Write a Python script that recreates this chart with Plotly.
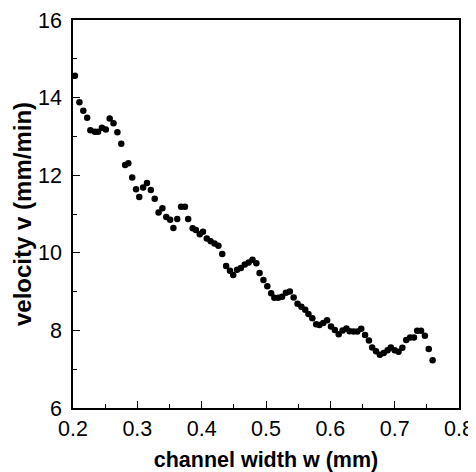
import plotly.graph_objects as go

width_mm = [0.203, 0.210, 0.216, 0.222, 0.227, 0.234, 0.239, 0.245, 0.251, 0.257,
            0.263, 0.269, 0.275, 0.281, 0.286, 0.292, 0.298, 0.303, 0.309, 0.315,
            0.321, 0.327, 0.333, 0.339, 0.345, 0.351, 0.356, 0.362, 0.368, 0.374,
            0.379, 0.386, 0.391, 0.397, 0.402, 0.408, 0.414, 0.420, 0.426, 0.432,
            0.438, 0.444, 0.449, 0.455, 0.461, 0.467, 0.473, 0.479, 0.485, 0.490,
            0.496, 0.502, 0.508, 0.513, 0.519, 0.525, 0.531, 0.537, 0.543, 0.549,
            0.555, 0.561, 0.566, 0.572, 0.578, 0.583, 0.589, 0.595, 0.601, 0.607,
            0.613, 0.619, 0.625, 0.630, 0.636, 0.642, 0.648, 0.654, 0.660, 0.665,
            0.671, 0.677, 0.683, 0.689, 0.694, 0.700, 0.706, 0.712, 0.718, 0.724,
            0.730, 0.735, 0.741, 0.747, 0.753, 0.759]
velocity = [14.56, 13.88, 13.66, 13.48, 13.16, 13.12, 13.12, 13.22, 13.18, 13.46,
            13.34, 13.11, 12.81, 12.26, 12.31, 11.94, 11.64, 11.44, 11.68, 11.80,
            11.62, 11.39, 11.04, 11.15, 10.92, 10.85, 10.64, 10.87, 11.19, 11.19,
            10.87, 10.63, 10.59, 10.48, 10.54, 10.37, 10.30, 10.24, 10.18, 9.97,
            9.66, 9.54, 9.43, 9.56, 9.61, 9.70, 9.75, 9.82, 9.73, 9.48,
            9.30, 9.14, 8.96, 8.84, 8.84, 8.87, 8.97, 9.00, 8.85, 8.69,
            8.61, 8.53, 8.42, 8.31, 8.16, 8.14, 8.19, 8.26, 8.10, 8.01,
            7.90, 8.00, 8.05, 7.98, 7.97, 7.97, 8.04, 7.88, 7.74, 7.56,
            7.46, 7.37, 7.42, 7.49, 7.56, 7.49, 7.45, 7.55, 7.75, 7.82,
            7.82, 7.99, 7.99, 7.86, 7.52, 7.23]

x_ticks = [0.2, 0.3, 0.4, 0.5, 0.6, 0.7, 0.8]
x_tick_labels = ["0.2", "0.3", "0.4", "0.5", "0.6", "0.7", "0.8"]
y_ticks = [6, 8, 10, 12, 14, 16]
y_tick_labels = ["6", "8", "10", "12", "14", "16"]

FONT = "Liberation Sans, Arial, sans-serif"

fig = go.Figure(go.Scatter(
    x=width_mm, y=velocity, mode="markers",
    marker=dict(color="black", size=6.5, line=dict(width=0)),
    showlegend=False,
))

axis_common = dict(
    showline=True, linecolor="black", linewidth=1.5, mirror=True,
    ticks="inside", ticklen=7, tickwidth=1.2, tickcolor="black",
    showgrid=False, zeroline=False, automargin=False,
    tickfont=dict(family=FONT, size=21.5, color="black"),
)

fig.update_xaxes(
    range=[0.2, 0.8], tickvals=x_ticks, ticktext=x_tick_labels,
    ticklabelstandoff=0,
    minor=dict(ticks="inside", ticklen=4, tickwidth=1.2, tickcolor="black", dtick=0.05, tick0=0.2, showgrid=False),
    title=dict(text="<b>channel width w (mm)</b>", standoff=16,
               font=dict(family=FONT, size=21.5, color="black")),
    **axis_common,
)
fig.update_yaxes(
    range=[6, 16], tickvals=y_ticks, ticktext=y_tick_labels,
    ticklabelstandoff=5,
    minor=dict(ticks="inside", ticklen=4, tickwidth=1.2, tickcolor="black", dtick=1, tick0=6, showgrid=False),
    title=dict(text="<b>velocity v (mm/min)</b>", standoff=0,
               font=dict(family=FONT, size=24, color="black")),
    **axis_common,
)

# the page shows the figure with an 8 px body margin, so the figure is sized to fit
fig.update_layout(
    width=468, height=464,
    margin=dict(l=65, r=17, t=12, b=64),
    plot_bgcolor="white", paper_bgcolor="white",
)

fig.write_html("out.html")
